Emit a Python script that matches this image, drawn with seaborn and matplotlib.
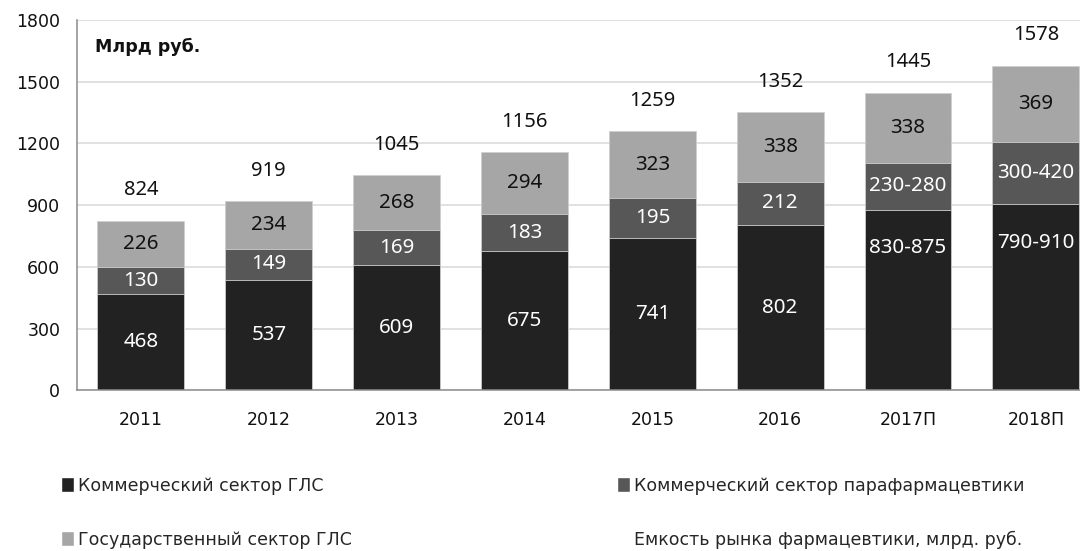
import numpy as np
import pandas as pd
import matplotlib
matplotlib.use('Agg')
import matplotlib.pyplot as plt
import seaborn as sns
from matplotlib.patches import Patch

# data
years = ['2011', '2012', '2013', '2014', '2015', '2016', '2017П', '2018П']
comm_gls = [468, 537, 609, 675, 741, 802, 875, 905]
comm_para = [130, 149, 169, 183, 195, 212, 232, 304]
gov_gls = [226, 234, 268, 294, 323, 338, 338, 369]
totals = [824, 919, 1045, 1156, 1259, 1352, 1445, 1578]
comm_gls_text = ['468', '537', '609', '675', '741', '802', '830-875', '790-910']
comm_para_text = ['130', '149', '169', '183', '195', '212', '230-280', '300-420']
gov_gls_text = ['226', '234', '268', '294', '323', '338', '338', '369']
is_forecast = [False, False, False, False, False, False, True, True]
series_names = ['Коммерческий сектор ГЛС', 'Коммерческий сектор парафармацевтики',
                'Государственный сектор ГЛС', 'Емкость рынка фармацевтики, млрд. руб.']

c_dark = '#222222'
c_mid = '#575757'
c_light = '#a6a6a6'
tick_font = 'DejaVu Sans'
label_font = 'Noto Sans'
lab_size = 14.8

df = pd.DataFrame({'year': years, 'gls': comm_gls, 'para': comm_para, 'gov': gov_gls, 'total': totals})
df['lvl1'] = df['gls']
df['lvl2'] = df['gls'] + df['para']

sns.set_style('white')
plt.rcParams['font.family'] = tick_font

fig = plt.figure(figsize=(10.8, 5.51), dpi=100)
ax = fig.add_axes([0.0713, 0.2917, 0.947, 0.672])

bw = 0.68
kw = dict(width=bw, saturation=1, edgecolor='#cfcfcf', linewidth=0.6, ax=ax, zorder=3)
# stacked by overdrawing cumulative heights
sns.barplot(data=df, x='year', y='total', color=c_light, **kw)
sns.barplot(data=df, x='year', y='lvl2', color=c_mid, **kw)
sns.barplot(data=df, x='year', y='lvl1', color=c_dark, **kw)

ax.set_xlim(-0.5, len(years) - 0.5)
ax.set_ylim(0, 1800)
ax.set_yticks(np.arange(0, 1801, 300))
ax.set_xlabel('')
ax.set_ylabel('')
ax.grid(axis='y', color='#d9d9d9', linewidth=1.1, zorder=0)
ax.set_axisbelow(True)

for s in ['top', 'right']:
    ax.spines[s].set_visible(False)
for s in ['left', 'bottom']:
    ax.spines[s].set_color('#8c8c8c')
    ax.spines[s].set_linewidth(1.1)
    ax.spines[s].set_zorder(4)

ax.tick_params(axis='y', length=5, width=1.1, color='#8c8c8c', pad=7, labelsize=12.5, labelcolor='#111111')
ax.tick_params(axis='x', which='major', length=0, pad=15, labelsize=12.5, labelcolor='#111111')
ax.set_xticks(np.arange(-0.5, len(years), 1.0), minor=True)
ax.tick_params(axis='x', which='minor', length=5, width=1.1, color='#8c8c8c')

# segment labels
for i in range(len(years)):
    b1 = comm_gls[i]
    b2 = comm_gls[i] + comm_para[i]
    y1 = b1 * (0.79 if is_forecast[i] else 0.5)
    ax.text(i, y1, comm_gls_text[i], ha='center', va='center', color='white',
            fontsize=lab_size, family=label_font, zorder=5)
    ax.text(i, (b1 + b2) / 2, comm_para_text[i], ha='center', va='center', color='white',
            fontsize=lab_size, family=label_font, zorder=5)
    ax.text(i, (b2 + totals[i]) / 2, gov_gls_text[i], ha='center', va='center', color='#111111',
            fontsize=lab_size, family=label_font, zorder=5)
    ax.annotate(str(totals[i]), (i, totals[i]), xytext=(0, 22), textcoords='offset points',
                ha='center', va='center', color='#111111', fontsize=14.5, family=label_font,
                zorder=5, annotation_clip=False)

ax.text(0.018, 0.928, 'Млрд руб.', transform=ax.transAxes, fontsize=12.5,
        fontweight='bold', va='center', ha='left', color='#111111')

# legend: two columns placed separately
lkw = dict(frameon=False, fontsize=12.5, handlelength=0.72, handleheight=0.95,
           handletextpad=0.28, labelspacing=2.05, borderpad=0, borderaxespad=0, loc='center left')
h1 = [Patch(facecolor=c_dark), Patch(facecolor=c_light)]
leg1 = fig.legend(h1, [series_names[0], series_names[2]], bbox_to_anchor=(61 / 1080, 0.0695), **lkw)
h2 = [Patch(facecolor=c_mid), Patch(facecolor='none', edgecolor='none')]
leg2 = fig.legend(h2, [series_names[1], series_names[3]], bbox_to_anchor=(617 / 1080, 0.0695), **lkw)

fig.savefig('out.png', dpi=100)
